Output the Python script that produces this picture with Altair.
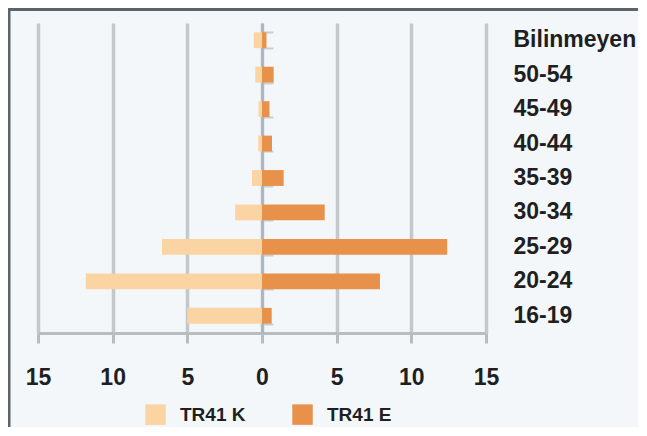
import altair as alt
import pandas as pd

categories = ["Bilinmeyen", "50-54", "45-49", "40-44", "35-39", "30-34", "25-29", "20-24", "16-19"]
series = ["TR41 K", "TR41 E"]
k_values = [0.55, 0.45, 0.23, 0.25, 0.67, 1.8, 6.7, 11.8, 5.0]
e_values = [0.3, 0.78, 0.5, 0.67, 1.45, 4.2, 12.4, 7.9, 0.65]
x_ticks = [-15, -10, -5, 0, 5, 10, 15]
colors = ["#fbd4a3", "#e8914b"]

rows = []
for c, kv, ev in zip(categories, k_values, e_values):
    rows.append({"category": c, "series": series[0], "value": -kv})
    rows.append({"category": c, "series": series[1], "value": ev})
df = pd.DataFrame(rows)

FONT = "Liberation Sans, Arial, sans-serif"
TEXT = "#1f1f1f"

yscale = alt.Scale(domain=categories, paddingInner=0.54, paddingOuter=0.27)

bars = alt.Chart(df).mark_bar().encode(
    x=alt.X(
        "value:Q",
        stack=None,
        scale=alt.Scale(domain=[-15, 15], nice=False, zero=False),
        axis=alt.Axis(
            values=x_ticks,
            labelExpr="abs(datum.value)",
            labelFlush=False,
            labelOverlap=False,
            title=None,
            grid=True,
            gridColor="#c3c8cd",
            gridWidth=3.5,
            domainColor="#b8bdc2",
            domainWidth=3,
            tickColor="#b8bdc2",
            tickWidth=3,
            tickSize=10,
            labelFont=FONT,
            labelFontSize=23,
            labelFontWeight="bold",
            labelColor=TEXT,
            labelPadding=23,
        ),
    ),
    y=alt.Y(
        "category:N",
        sort=categories,
        scale=yscale,
        axis=alt.Axis(
            orient="right",
            title=None,
            ticks=False,
            tickSize=0,
            domain=False,
            labelFont=FONT,
            labelFontSize=23,
            labelFontWeight="bold",
            labelColor=TEXT,
            labelPadding=27,
            labelAlign="left",
        ),
    ),
    color=alt.Color(
        "series:N",
        scale=alt.Scale(domain=series, range=colors),
        legend=alt.Legend(
            title=None,
            orient="none",
            direction="horizontal",
            legendX=107,
            legendY=381,
            symbolType="square",
            symbolSize=420,
            symbolStrokeWidth=0,
            labelFont=FONT,
            labelFontSize=19,
            labelFontWeight="bold",
            labelColor=TEXT,
            labelOffset=14,
            columnPadding=46,
        ),
    ),
)

zero_axis = alt.Chart(df).mark_bar(opacity=0).encode(
    y=alt.Y(
        "category:N",
        sort=categories,
        scale=yscale,
        axis=alt.Axis(
            orient="right",
            offset=-224,
            title=None,
            labels=False,
            ticks=True,
            tickBand="extent",
            tickSize=11,
            tickColor="#c9ced3",
            tickWidth=2,
            domain=True,
            domainColor="#a8b3bf",
            domainWidth=2.5,
            grid=False,
        ),
    ),
    x=alt.X("value:Q", stack=None),
)

frame_data = alt.Data(values=[{"a": 1}])
top_border = alt.Chart(frame_data).mark_rule(color="#5c6369", strokeWidth=3).encode(
    x=alt.value(-30), x2=alt.value(620), y=alt.value(-13.5)
)
left_border = alt.Chart(frame_data).mark_rule(color="#5c6369", strokeWidth=3).encode(
    x=alt.value(-29), y=alt.value(-15), y2=alt.value(420)
)

chart = (
    alt.layer(zero_axis, bars, top_border, left_border)
    .resolve_axis(y="independent")
    .properties(
        width=448,
        height=310,
        autosize=alt.AutoSizeParams(type="none"),
        padding={"left": 30, "top": 15, "right": 152, "bottom": 94},
        background="#f3f7fa",
    )
    .configure_view(stroke=None)
)

chart.save("out.html", embed_options={"renderer": "svg", "actions": False})
